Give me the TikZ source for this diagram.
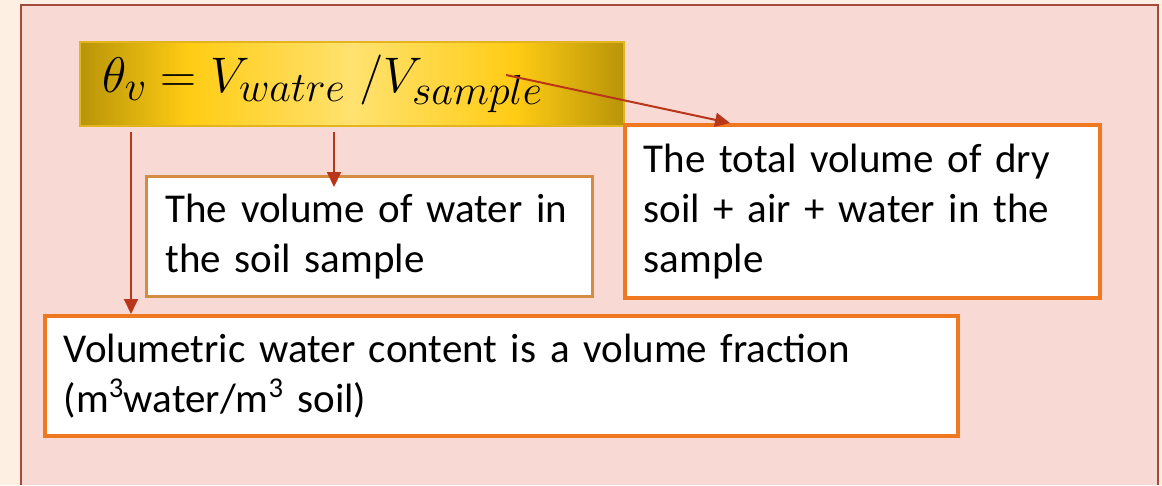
\documentclass[tikz,border=0pt]{standalone}
\usepackage{fix-cm}
\usepackage[no-math]{fontspec}
\setmainfont{Carlito}
\usetikzlibrary{arrows.meta}
\DeclareMathSizes{50}{50}{42}{36}
\definecolor{cream}{RGB}{253,240,227}
\definecolor{blush}{RGB}{249,217,211}
\definecolor{framered}{RGB}{163,74,58}
\definecolor{arrowred}{RGB}{184,54,26}
\definecolor{boxorange}{RGB}{240,120,32}
\definecolor{boxtan}{RGB}{211,141,66}
\definecolor{golddark}{RGB}{184,148,8}
\definecolor{goldmid}{RGB}{255,204,20}
\definecolor{goldlight}{RGB}{255,226,112}
\definecolor{goldedge}{RGB}{226,180,30}
\pgfdeclarehorizontalshading{goldbar}{100bp}{color(0bp)=(golddark); color(25bp)=(golddark); color(35bp)=(goldmid); color(50bp)=(goldlight); color(65bp)=(goldmid); color(75bp)=(golddark); color(100bp)=(golddark)}
\begin{document}
\begin{tikzpicture}[x=1pt,y=-1pt,
  note/.style={draw=boxorange,fill=white,line width=3.5pt,anchor=north west,align=left,
    inner xsep=19pt,inner ysep=0pt,font=\fontsize{41}{50}\selectfont},
  arr/.style={-{Triangle[length=15pt,width=14pt]},draw=arrowred,line width=2pt}]
\useasboundingbox (0,0) rectangle (1162,485);
\fill[cream] (0,0) rectangle (1162,485);
\fill[blush] (21,5) rectangle (1158,485);
\draw[framered,line width=1.6pt] (21,485) -- (21,5) -- (1158,5) -- (1158,485);

% formula bar
\node[shade,shading=goldbar,draw=goldedge,line width=2pt,anchor=north west,
  minimum width=544pt,minimum height=84pt,text width=500pt,inner xsep=22pt,
  align=left,font=\fontsize{50}{60}\selectfont] (formula) at (79,41)
  {\raisebox{-5pt}{$\theta_v = V_{watre}\;/V_{sample}$}};

% boxes
\node[note,draw=boxtan,line width=3pt,minimum width=446pt,minimum height=120pt,
  text width=408pt] (wvol) at (145,175) {The volume of water in\\the soil sample};
\node[note,minimum width=475pt,minimum height=173pt,text width=437pt] (total)
  at (623,123) {The total volume of dry\\soil + air + water in the\\sample};
\node[note,minimum width=913pt,minimum height=120pt,text width=875pt] (vfrac)
  at (43,314) {Volumetric water content is a volume fraction\\(m\textsuperscript{3}water/m\textsuperscript{3} soil)};

% arrows
\coordinate (lefttail) at (131,132);
\coordinate (midtail) at (334,132);
\coordinate (sampletail) at (506,75);
\draw[arr] (lefttail) -- (lefttail |- vfrac.north);
\draw[arr] (midtail) -- ([yshift=-12pt]midtail |- wvol.north);
\draw[arr] (sampletail) -- ([xshift=107pt]total.north west);
\end{tikzpicture}
\end{document}
